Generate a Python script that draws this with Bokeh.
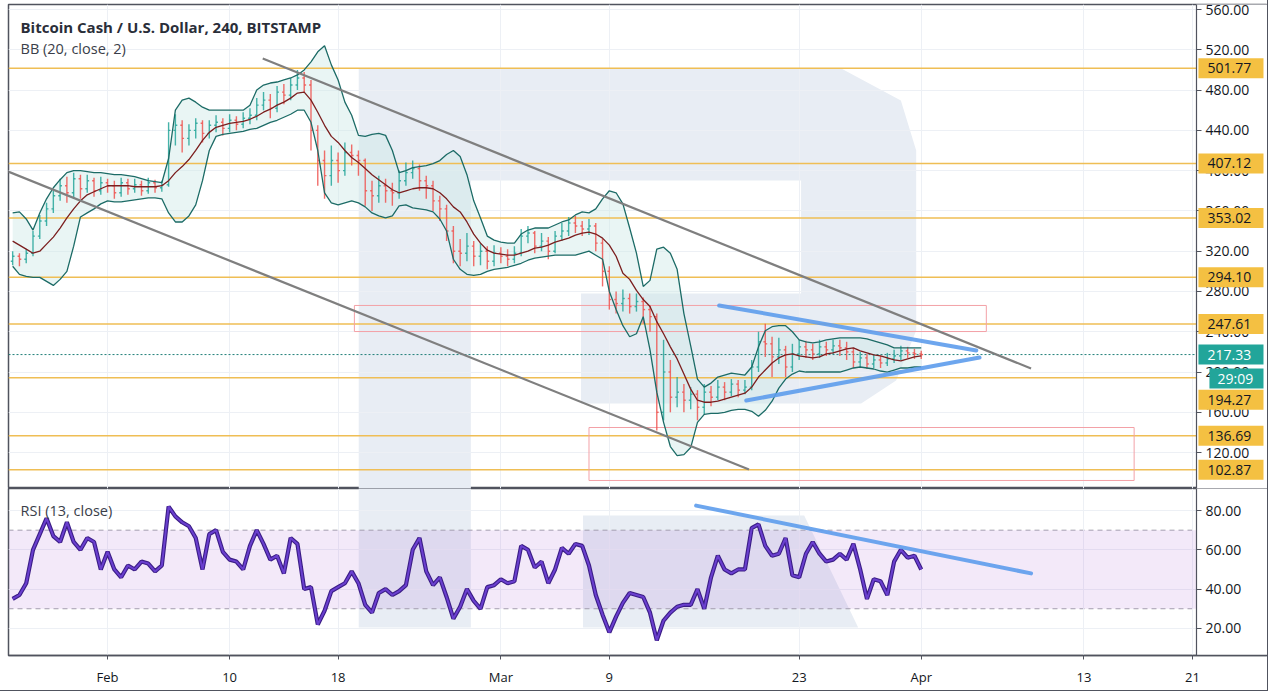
import numpy as np
from bokeh.plotting import figure
from bokeh.models import (Range1d, FixedTicker, Label, BoxAnnotation, LinearAxis,
                          PrintfTickFormatter, ColumnDataSource)
from bokeh.layouts import column
from bokeh.embed import file_html
from bokeh.resources import INLINE
from bokeh.core.properties import value

FONT = "Open Sans"

# ---------------- data (12-hour bars, x = days since 1 Feb 2020) ----------------
days = [float(v) for v in np.arange(-7.0, 60.01, 0.5)]

close = [315, 312, 318, 335, 350, 362, 375, 385, 378, 392, 382, 390, 380, 388,
         385, 378, 388, 382, 386, 380, 388, 383, 386, 440, 445, 432, 440, 447,
         437, 445, 448, 442, 450, 446, 452, 455, 465, 470, 462, 478, 475, 485,
         492, 485, 440, 410, 395, 410, 400, 418, 415, 410, 380, 375, 385, 380,
         378, 390, 398, 402, 390, 385, 370, 362, 340, 320, 318, 325, 315, 320,
         310, 318, 315, 312, 318, 335, 338, 325, 330, 320, 335, 340, 348, 345,
         342, 345, 328, 300, 272, 268, 273, 265, 270, 262, 255, 160, 200, 175,
         180, 172, 178, 165, 180, 175, 185, 180, 188, 182, 185, 205, 230, 228,
         215, 222, 205, 218, 225, 222, 218, 225, 222, 226, 224, 220, 210, 214,
         208, 212, 209, 213, 216, 221, 219, 218, 217.33]
high = [320, 318, 322, 340, 356, 368, 380, 392, 394, 398, 396, 396, 393, 394,
        392, 390, 393, 392, 392, 390, 393, 391, 390, 448, 456, 450, 446, 452,
        450, 450, 455, 452, 456, 454, 458, 462, 472, 478, 476, 484, 486, 492,
        500, 498, 490, 445, 420, 425, 418, 428, 426, 420, 412, 390, 395, 392,
        388, 400, 408, 410, 406, 395, 390, 375, 366, 345, 332, 338, 330, 328,
        325, 326, 324, 322, 325, 342, 345, 340, 338, 334, 340, 348, 354, 355,
        350, 352, 348, 332, 305, 280, 282, 278, 278, 274, 266, 258, 232, 212,
        195, 188, 185, 182, 188, 186, 192, 190, 193, 192, 192, 212, 240, 248,
        235, 234, 226, 228, 232, 231, 228, 232, 230, 232, 232, 230, 224, 220,
        218, 218, 216, 219, 222, 226, 225, 223, 221]
low = [306, 305, 308, 315, 332, 345, 358, 370, 368, 372, 372, 378, 374, 376,
       378, 372, 374, 376, 378, 375, 377, 378, 379, 384, 425, 418, 425, 432,
       428, 432, 438, 435, 438, 440, 442, 446, 450, 460, 452, 458, 466, 470,
       480, 478, 420, 385, 372, 385, 388, 395, 405, 395, 365, 360, 368, 368,
       365, 372, 385, 392, 380, 372, 360, 350, 330, 308, 305, 310, 305, 306,
       302, 305, 308, 305, 308, 315, 328, 318, 320, 312, 318, 330, 335, 338,
       335, 336, 320, 285, 262, 258, 260, 258, 260, 248, 240, 142, 152, 160,
       165, 160, 163, 152, 158, 166, 172, 172, 176, 175, 178, 182, 200, 215,
       195, 208, 195, 200, 212, 214, 212, 214, 216, 218, 216, 212, 204, 205,
       203, 204, 204, 206, 209, 212, 214, 213, 213]
first_open = 310

bb_upper = [358, 359, 352, 341, 358, 372, 383, 391, 398, 400, 400, 399, 398, 398,
            397, 396, 396, 395, 394, 392, 390, 389, 388, 412, 460, 470, 472, 468,
            463, 460, 460, 460, 460, 460, 460, 465, 480, 485, 487, 488, 490, 492,
            495, 500, 508, 518, 524, 505, 490, 468, 455, 435, 434, 436, 437, 435,
            420, 398, 400, 403, 404, 405, 407, 410, 416, 420, 414, 396, 370, 353,
            335, 331, 329, 328, 328, 337, 341, 343, 343, 343, 346, 349, 351, 356,
            359, 358, 362, 372, 380, 378, 367, 343, 318, 285, 291, 322, 324, 318,
            302, 258, 226, 193, 185, 189, 195, 197, 199, 198, 197, 205, 225, 241,
            245, 246, 246, 240, 232, 230, 229, 230, 232, 233, 234, 234, 234, 234,
            233, 231, 229, 227, 224, 224, 224, 224, 224]
bb_mid = [330, 326, 322, 318, 320, 327, 334, 343, 353, 362, 370, 376, 379, 382,
          385, 385, 385, 385, 384, 384, 384, 384, 385, 390, 398, 404, 411, 420,
          430, 438, 443, 445, 447, 448, 449, 451, 454, 458, 461, 465, 468, 472,
          477, 478, 470, 458, 445, 434, 428, 420, 413, 408, 402, 396, 391, 386,
          381, 378, 380, 382, 383, 383, 382, 378, 372, 364, 359, 349, 337, 328,
          321, 318, 317, 316, 316, 318, 320, 323, 324, 326, 329, 331, 333, 336,
          338, 339, 337, 333, 326, 315, 298, 292, 281, 272, 265, 250, 238, 225,
          213, 198, 183, 172, 170, 170, 171, 173, 175, 177, 179, 185, 195, 202,
          209, 214, 217, 218, 216, 215, 214, 215, 218, 219, 221, 223, 224, 221,
          219, 217, 216, 214, 212, 211, 213, 215, 216]
bb_lower = [305, 297, 295, 294, 294, 290, 286, 292, 300, 325, 354, 358, 362, 367,
            370, 369, 369, 370, 371, 372, 373, 373, 372, 358, 349, 349, 355, 366,
            390, 420, 434, 436, 437, 438, 439, 441, 442, 445, 448, 450, 453, 456,
            460, 460, 448, 420, 378, 368, 366, 368, 370, 368, 364, 358, 355, 353,
            355, 365, 366, 363, 362, 361, 359, 352, 340, 312, 302, 297, 296, 297,
            300, 302, 303, 304, 306, 308, 311, 313, 314, 315, 316, 316, 316, 316,
            318, 320, 316, 312, 280, 262, 246, 235, 238, 255, 222, 180, 150, 126,
            117, 118, 125, 150, 158, 159, 159, 160, 162, 163, 163, 161, 156, 162,
            171, 184, 193, 198, 201, 200, 200, 200, 200, 200, 200, 202, 204, 205,
            204, 203, 201, 200, 202, 204, 204, 205, 205]

rsi = [35, 37, 43, 60, 68, 76, 67, 64, 74, 64, 60, 66, 64, 50,
       59, 50, 46, 52, 50, 54, 53, 49, 52, 82, 77, 74, 72, 66,
       50, 68, 70, 59, 55, 54, 50, 62, 70, 63, 55, 57, 48, 66,
       63, 40, 41, 22, 29, 39, 41, 43, 49, 43, 32, 28, 38, 40,
       37, 39, 42, 60, 66, 49, 42, 46, 36, 25, 31, 40, 34, 30,
       41, 42, 45, 43, 44, 62, 60, 51, 54, 43, 50, 61, 58, 63,
       62, 52, 37, 27, 18, 26, 33, 38, 37, 36, 28, 14, 24, 28,
       31, 32, 32, 40, 30, 46, 57, 50, 48, 50, 50, 71, 73, 62,
       57, 58, 66, 47, 46, 58, 64, 58, 54, 55, 58, 55, 63, 50,
       35, 45, 44, 37, 54, 60, 56, 57, 50]

levels = [501.77, 407.12, 353.02, 294.10, 247.61, 194.27, 136.69, 102.87]
level_tags = ["501.77", "407.12", "353.02", "294.10", "247.61", "194.27", "136.69", "102.87"]
last_price = 217.33
last_tag = "217.33"
countdown = "29:09"

price_ticks = [120, 160, 200, 240, 280, 320, 360, 400, 440, 480, 520, 560]
rsi_ticks = [20, 40, 60, 80]
date_ticks = [0, 9, 17, 29, 37, 51, 60, 72, 80]
date_labels = ["Feb", "10", "18", "Mar", "9", "23", "Apr", "13", "21"]

# drawn zones (pink rectangles)
zone_left = [18.2, 35.5]
zone_right = [64.8, 75.7]
zone_bottom = [240.2, 92.3]
zone_top = [266.1, 144.9]

# descending channel (grey)
chan_x0 = [11.44, -7.9]
chan_y0 = [511.3, 402.1]
chan_x1 = [68.1, 47.3]
chan_y1 = [203.5, 103.2]

# triangle (blue)
tri_x0 = [45.1, 47.1]
tri_y0 = [266.1, 171.7]
tri_x1 = [64.06, 64.3]
tri_y1 = [221.4, 214.4]

# RSI trend line
rsi_tl_x = [43.4, 68.1]
rsi_tl_y = [82.5, 48.0]

# background watermark ("R" logo), price pane and RSI pane
wm_px = [18.52, 54.1, 58.5, 59.63, 59.63, 58.15, 55.57, 34.91, 34.91, 51.14, 51.14, 26.79, 26.79, 18.52]
wm_py = [501.4, 501.4, 469.6, 420.0, 241.2, 191.6, 168.7, 168.7, 278.0, 278.0, 390.2, 390.2, 80.0, 80.0]
wm_rx = [[18.52, 26.79, 26.79, 18.52], [35.06, 51.37, 55.35, 35.06]]
wm_ry = [[95.0, 95.0, 20.46, 20.46], [77.46, 77.46, 20.46, 20.46]]

# ---------------- derived ----------------
n = len(days)
assert len(close) == n and len(high) == n and len(low) == n
assert len(bb_upper) == n and len(bb_mid) == n and len(bb_lower) == n and len(rsi) == n
opens = [first_open] + close[:-1]
up_col, dn_col = "#26a69a", "#ef5350"
cols = [up_col if c >= o else dn_col for o, c in zip(opens, close)]
half = 0.14
src = ColumnDataSource(dict(x=days, xl=[d - half for d in days], xr=[d + half for d in days],
                            o=opens, h=high, l=low, c=close, col=cols))

# pixel geometry of the time scale (px = 107 + 13.55 * day)
def day_at(px):
    return (px - 107.0) / 13.55

X0 = day_at(8)          # frame left
XA = day_at(1195)       # price-scale separator
X1 = day_at(1266)       # frame right
PPX = 1.007             # pixels per dollar in the price pane

W = 1267
XR = Range1d(X0, X1)
GRID = "#edf0f5"
DARK = "#50535e"
TXT = "#131722"

def style_axis(ax):
    ax.major_label_text_font = FONT
    ax.major_label_text_font_size = "14px"
    ax.major_label_text_color = TXT
    ax.axis_line_color = DARK
    ax.axis_line_width = 1.2
    ax.major_tick_line_color = DARK
    ax.major_tick_out = 5
    ax.major_tick_in = 0
    ax.minor_tick_line_color = None
    ax.major_label_standoff = 4

# ---------------- price pane ----------------
p1 = figure(width=W, height=488, x_range=XR, y_range=Range1d(84.33, 564.97),
            output_backend="svg", toolbar_location=None,
            x_axis_location=None, y_axis_location=None,
            min_border_left=8, min_border_right=0, min_border_top=4, min_border_bottom=0)
p1.outline_line_color = DARK
p1.outline_line_width = 1.5
p1.background_fill_color = "white"
p1.border_fill_color = "white"
p1.xgrid.ticker = FixedTicker(ticks=date_ticks)
p1.xgrid.grid_line_color = GRID
p1.ygrid.ticker = FixedTicker(ticks=price_ticks)
p1.ygrid.grid_line_color = GRID

ax1 = LinearAxis(fixed_location=XA, ticker=FixedTicker(ticks=price_ticks),
                 formatter=PrintfTickFormatter(format="%.2f"))
style_axis(ax1)
p1.add_layout(ax1, "right")

p1.patch(wm_px, wm_py, fill_color="#e8edf4", line_color=None, level="image")

# white price-scale column
p1.quad(left=[XA], right=[X1 + 1], bottom=[0], top=[700], fill_color="white", line_color=None)

p1.varea(x=days, y1=bb_lower, y2=bb_upper, fill_color="#cfe9e6", fill_alpha=0.45)

p1.segment(x0=[X0] * len(levels), y0=levels, x1=[XA] * len(levels), y1=levels,
           line_color="#efbe55", line_width=1.5)
p1.segment(x0=[X0], y0=[last_price], x1=[XA], y1=[last_price],
           line_color="#1f7f78", line_width=1, line_dash="2 2")

p1.quad(left=zone_left, right=zone_right, bottom=zone_bottom, top=zone_top,
        fill_color=None, line_color="#f3a1a7", line_width=1)

p1.segment(x0="x", y0="l", x1="x", y1="h", line_color="col", line_width=1.4, line_alpha=0.85, source=src)
p1.segment(x0="xl", y0="o", x1="x", y1="o", line_color="col", line_width=1.4, line_alpha=0.85, source=src)
p1.segment(x0="x", y0="c", x1="xr", y1="c", line_color="col", line_width=1.4, line_alpha=0.85, source=src)

p1.line(days, bb_upper, line_color="#1c6b66", line_width=1.3)
p1.line(days, bb_lower, line_color="#1c6b66", line_width=1.3)
p1.line(days, bb_mid, line_color="#7b1e1e", line_width=1.3)

p1.segment(x0=chan_x0, y0=chan_y0, x1=chan_x1, y1=chan_y1, line_color="#7f7f7f", line_width=2.2)
p1.segment(x0=tri_x0, y0=tri_y0, x1=tri_x1, y1=tri_y1, line_color="#5d9cec",
           line_width=4, line_alpha=0.9, line_cap="round")

p1.add_layout(Label(x=day_at(20), y=560 - (26 - 9) / PPX, text="Bitcoin Cash / U.S. Dollar, 240, BITSTAMP",
                    text_font=FONT, text_font_size="15px", text_font_style="bold",
                    text_color="#2a2e39", text_baseline="middle"))
p1.add_layout(Label(x=day_at(20), y=560 - (48 - 9) / PPX, text="BB (20, close, 2)",
                    text_font=FONT, text_font_size="14.5px", text_color="#3a3e49",
                    text_baseline="middle"))

# price tags on the scale (drawn above the axis labels)
tag_text = level_tags + [last_tag, countdown]
tag_y = [v - (22.0 / PPX if t == "194.27" else 0.0) for v, t in zip(levels, level_tags)]
tag_y += [last_price, last_price - 24.0 / PPX]
tag_bg = ["#f4c042"] * len(levels) + ["#22a59a", "#22a59a"]
tag_fg = [TXT] * len(levels) + ["white", "white"]
tag_l = [day_at(1197)] * (len(levels) + 1) + [day_at(1208)]
tag_tx = [day_at(1206)] * (len(levels) + 1) + [day_at(1216)]
tag_src = ColumnDataSource(dict(l=tag_l, r=[day_at(1262)] * len(tag_y),
                                b=[y - 10.0 / PPX for y in tag_y], t=[y + 10.0 / PPX for y in tag_y],
                                tx=tag_tx, y=tag_y, text=tag_text, bg=tag_bg, fg=tag_fg))
p1.quad(left="l", right="r", bottom="b", top="t", fill_color="bg", line_color=None,
        source=tag_src, level="overlay")
p1.text(x="tx", y="y", text="text", text_color="fg", text_font=value(FONT),
        text_font_size="14px", text_baseline="middle", text_align="left",
        source=tag_src, level="overlay")

# ---------------- RSI pane ----------------
p2 = figure(width=W, height=202, x_range=XR, y_range=Range1d(6.21, 91.2),
            output_backend="svg", toolbar_location=None,
            x_axis_location="below", y_axis_location=None,
            min_border_left=8, min_border_right=0, min_border_top=0, min_border_bottom=35)
p2.outline_line_color = DARK
p2.outline_line_width = 1.5
p2.background_fill_color = "white"
p2.border_fill_color = "white"
p2.xgrid.ticker = FixedTicker(ticks=date_ticks)
p2.xgrid.grid_line_color = GRID
p2.ygrid.ticker = FixedTicker(ticks=rsi_ticks)
p2.ygrid.grid_line_color = GRID

ax2 = LinearAxis(fixed_location=XA, ticker=FixedTicker(ticks=rsi_ticks),
                 formatter=PrintfTickFormatter(format="%.2f"))
style_axis(ax2)
p2.add_layout(ax2, "right")

p2.xaxis.ticker = FixedTicker(ticks=date_ticks)
p2.xaxis.major_label_overrides = {t: l for t, l in zip(date_ticks, date_labels)}
p2.xaxis.major_label_text_font = FONT
p2.xaxis.major_label_text_font_size = "13px"
p2.xaxis.major_label_text_color = TXT
p2.xaxis.axis_line_color = DARK
p2.xaxis.axis_line_width = 1.5
p2.xaxis.major_tick_line_color = DARK
p2.xaxis.major_tick_out = 4
p2.xaxis.major_tick_in = 0
p2.xaxis.minor_tick_line_color = None
p2.xaxis.major_label_standoff = 8

p2.patches(wm_rx, wm_ry, fill_color="#e8edf4", line_color=None, level="image")
p2.add_layout(BoxAnnotation(left=X0, right=XA, bottom=30, top=70, fill_color="#9c4dcc",
                            fill_alpha=0.12, line_color=None, level="underlay"))
p2.segment(x0=[X0, X0], y0=[30, 70], x1=[XA, XA], y1=[30, 70], line_color="#a3a4ad",
           line_width=1, line_dash="5 4", level="underlay")
p2.quad(left=[XA], right=[X1 + 1], bottom=[0], top=[100], fill_color="white", line_color=None)

p2.line(days, rsi, line_color="#3b1d86", line_width=4.2)
p2.line(days, rsi, line_color="#6a3fcf", line_width=2)
p2.line(rsi_tl_x, rsi_tl_y, line_color="#5d9cec", line_width=4, line_alpha=0.9, line_cap="round")

p2.add_layout(Label(x=day_at(20), y=80.0, text="RSI (13, close)",
                    text_font=FONT, text_font_size="14.5px", text_color="#3a3e49",
                    text_baseline="middle"))

layout = column(p1, p2, styles={"outline": "1px solid #50535e"})
open("out.html", "w").write(file_html(layout, INLINE))
